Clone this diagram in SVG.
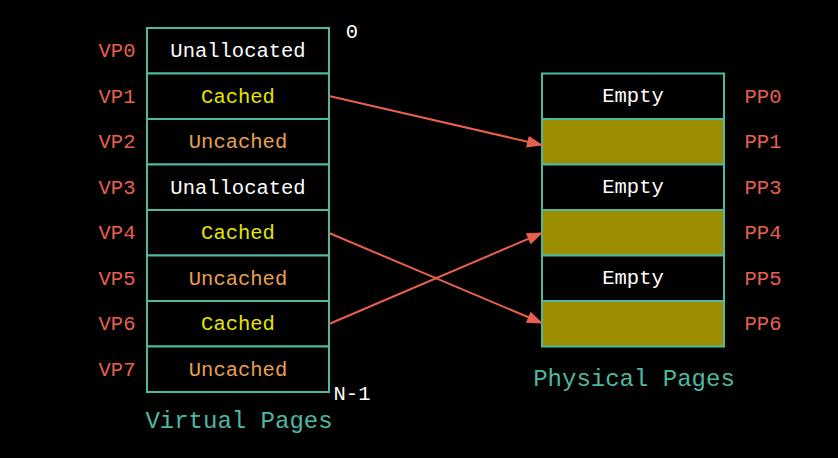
<svg xmlns="http://www.w3.org/2000/svg" width="838" height="458" viewBox="0 0 838 458">
<style>
text{font-family:"Liberation Mono","DejaVu Sans Mono",monospace;font-size:20.5px;text-anchor:middle}
.cell{fill:#000;stroke:#4fb8a0;stroke-width:2}
.full{fill:#9c8c00;stroke:#4fb8a0;stroke-width:2}
.w{fill:#ffffff}.y{fill:#e6e600}.o{fill:#e8a050}
.lab{fill:#e8604c}
.title{fill:#4fb8a0;font-size:24px}
.edge{stroke:#e8604c;stroke-width:2;fill:none;marker-end:url(#ah)}
</style>
<defs>
<marker id="ah" markerWidth="16" markerHeight="12" refX="15" refY="6" orient="auto" markerUnits="userSpaceOnUse">
<path d="M0,0 L16,6 L0,12 z" fill="#e8604c"/>
</marker>
</defs>
<rect width="838" height="458" fill="#000"/>
<g id="virtual">
<g id="vp0"><rect class="cell" x="147" y="28" width="182" height="45.5"/><text class="w" x="238" y="57">Unallocated</text><text class="lab" x="117" y="57">VP0</text></g>
<g id="vp1"><rect class="cell" x="147" y="73.5" width="182" height="45.5"/><text class="y" x="238" y="103">Cached</text><text class="lab" x="117" y="103">VP1</text></g>
<g id="vp2"><rect class="cell" x="147" y="119" width="182" height="45.5"/><text class="o" x="238" y="148">Uncached</text><text class="lab" x="117" y="148">VP2</text></g>
<g id="vp3"><rect class="cell" x="147" y="164.5" width="182" height="45.5"/><text class="w" x="238" y="194">Unallocated</text><text class="lab" x="117" y="194">VP3</text></g>
<g id="vp4"><rect class="cell" x="147" y="210" width="182" height="45.5"/><text class="y" x="238" y="239">Cached</text><text class="lab" x="117" y="239">VP4</text></g>
<g id="vp5"><rect class="cell" x="147" y="255.5" width="182" height="45.5"/><text class="o" x="238" y="285">Uncached</text><text class="lab" x="117" y="285">VP5</text></g>
<g id="vp6"><rect class="cell" x="147" y="301" width="182" height="45.5"/><text class="y" x="238" y="330">Cached</text><text class="lab" x="117" y="330">VP6</text></g>
<g id="vp7"><rect class="cell" x="147" y="346.5" width="182" height="45.5"/><text class="o" x="238" y="376">Uncached</text><text class="lab" x="117" y="376">VP7</text></g>
<text class="w" x="352" y="38">0</text>
<text class="w" x="352" y="400">N-1</text>
<text class="title" x="239" y="428">Virtual Pages</text>
</g>
<g id="physical">
<g id="pp0"><rect class="cell" x="542" y="73.5" width="182" height="45.5"/><text class="w" x="633" y="102">Empty</text><text class="lab" x="763" y="103">PP0</text></g>
<g id="pp1"><rect class="full" x="542" y="119" width="182" height="45.5"/><text class="lab" x="763" y="148">PP1</text></g>
<g id="pp3"><rect class="cell" x="542" y="164.5" width="182" height="45.5"/><text class="w" x="633" y="193">Empty</text><text class="lab" x="763" y="194">PP3</text></g>
<g id="pp4"><rect class="full" x="542" y="210" width="182" height="45.5"/><text class="lab" x="763" y="239">PP4</text></g>
<g id="pp5"><rect class="cell" x="542" y="255.5" width="182" height="45.5"/><text class="w" x="633" y="284">Empty</text><text class="lab" x="763" y="285">PP5</text></g>
<g id="pp6"><rect class="full" x="542" y="301" width="182" height="45.5"/><text class="lab" x="763" y="330">PP6</text></g>
<text class="title" x="634" y="386">Physical Pages</text>
</g>
<g id="connectors">
<path class="edge" d="M329,96 L542,145"/>
<path class="edge" d="M329,233 L542,323"/>
<path class="edge" d="M329,324 L542,233"/>
</g>
</svg>
